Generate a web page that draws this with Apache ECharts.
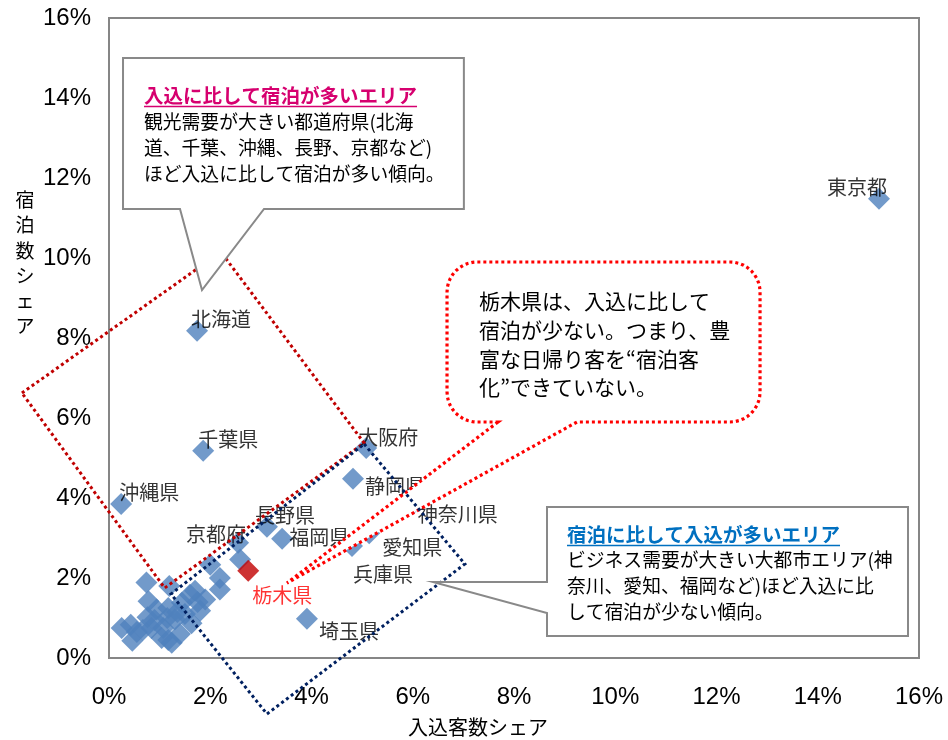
<!DOCTYPE html>
<html>
<head>
<meta charset="utf-8">
<script src="https://cdn.jsdelivr.net/npm/echarts@6/dist/echarts.min.js"></script>
<style>
  html, body { margin: 0; padding: 0; background: #ffffff; }
  #chart { width: 948px; height: 740px; }
</style>
</head>
<body>
<div id="chart"></div>
<script>
// Axis ticks (percent share)
const axisTicks = [0, 2, 4, 6, 8, 10, 12, 14, 16];

// Prefectures that carry a name label: visitor share (x) and overnight-stay share (y), in %
const prefNames    = ['東京都', '北海道', '千葉県', '沖縄県', '大阪府', '静岡県', '長野県', '福岡県', '京都府', '埼玉県', '神奈川県', '愛知県', '兵庫県'];
const visitorShare = [15.21, 1.74, 1.86, 0.24, 5.08, 4.82, 3.12, 3.42, 2.55, 3.91, 6.00, 5.14, 4.80];
const stayShare    = [11.48, 8.18, 5.18, 3.85, 5.25, 4.48, 3.28, 2.98, 2.88, 0.98, 3.85, 3.12, 2.80];

// Highlighted prefecture
const focusName    = '栃木県';
const focusVisitor = 2.75;
const focusStay    = 2.18;

// Remaining prefectures (unlabelled)
const otherVisitor = [0.74, 1.19, 0.78, 0.25, 0.43, 0.46, 0.76, 0.94, 0.84, 1.07, 1.24, 1.04, 1.30, 1.44, 1.60, 1.63, 1.90, 1.80, 2.00, 2.19, 2.19, 2.59, 1.70, 1.17, 0.67, 1.17, 1.50, 0.90, 1.15, 1.35, 0.55, 1.40, 1.75];
const otherStay    = [1.89, 1.80, 1.42, 0.75, 0.83, 0.43, 1.02, 1.21, 0.75, 0.75, 0.38, 0.50, 0.96, 1.38, 1.58, 0.87, 1.46, 1.18, 2.33, 2.00, 1.71, 2.46, 1.68, 1.25, 0.70, 0.45, 1.10, 0.95, 1.00, 1.15, 0.65, 0.60, 1.40];

// Label placement relative to each marker (px)
const labelOffset = {
  '東京都': [-22, -11], '北海道': [24, -11], '千葉県': [25, -11], '沖縄県': [28, -12],
  '大阪府': [22, -11], '静岡県': [42, 8], '長野県': [18, -11], '福岡県': [37, -1],
  '京都府': [-22, -8], '埼玉県': [42, 13], '神奈川県': [45, 10], '愛知県': [43, 14],
  '兵庫県': [31, 28], '栃木県': [34, 25]
};

const CJK = '"Noto Sans CJK JP", "Noto Sans CJK SC", sans-serif';
const LATIN = '"Liberation Sans", Arial, sans-serif';
const MARKER = 22;

const chart = echarts.init(document.getElementById('chart'), null, { renderer: 'canvas' });

const labeledData = prefNames.map((n, i) => ({
  name: n,
  value: [visitorShare[i], stayShare[i]],
  label: { offset: labelOffset[n] }
}));
const otherData = otherVisitor.map((v, i) => [v, otherStay[i]]);

const axisCommon = {
  type: 'value',
  min: axisTicks[0],
  max: axisTicks[axisTicks.length - 1],
  interval: axisTicks[1] - axisTicks[0],
  axisLine: { show: true, lineStyle: { color: '#868686', width: 2 } },
  axisTick: { show: false },
  splitLine: { show: false },
  axisLabel: {
    formatter: v => v + '%',
    fontSize: 24,
    fontFamily: LATIN,
    color: '#000000'
  }
};

chart.setOption({
  animation: false,
  grid: {
    left: 109, right: 29, top: 18, bottom: 82,
    show: true, borderColor: '#868686', borderWidth: 2, backgroundColor: '#ffffff'
  },
  xAxis: Object.assign({}, axisCommon, {
    axisLabel: Object.assign({}, axisCommon.axisLabel, { margin: 27 })
  }),
  yAxis: Object.assign({}, axisCommon, {
    axisLabel: Object.assign({}, axisCommon.axisLabel, { margin: 18 })
  }),
  series: [
    {
      type: 'scatter',
      symbol: 'diamond',
      symbolSize: MARKER,
      itemStyle: { color: '#4F81BD' },
      emphasis: { disabled: true },
      data: otherData
    },
    {
      type: 'scatter',
      symbol: 'diamond',
      symbolSize: MARKER,
      itemStyle: { color: '#4F81BD' },
      emphasis: { disabled: true },
      label: {
        show: true, position: 'inside', formatter: '{b}',
        color: '#000000', fontSize: 20, fontFamily: CJK
      },
      data: labeledData
    },
    {
      type: 'scatter',
      symbol: 'diamond',
      symbolSize: MARKER,
      itemStyle: { color: '#C00000' },
      emphasis: { disabled: true },
      label: {
        show: true, position: 'inside', formatter: '{b}',
        color: '#FF0000', fontSize: 20, fontFamily: CJK,
        offset: labelOffset[focusName]
      },
      data: [{ name: focusName, value: [focusVisitor, focusStay] }]
    }
  ]
});

// ---- annotation overlay (shapes anchored in axis units) ----
const P = p => chart.convertToPixel({ gridIndex: 0 }, p);

const leisureZone  = [[-1.72, 6.625], [2.21, 10.15], [5.04, 5.375], [1.10, 1.75]];
const businessZone = [[5.04, 5.35], [7.03, 2.35], [3.12, -1.40], [1.225, 1.60]];
const leisureNote  = { x0: 0.277, x1: 7.01, y0: 15.0, y1: 11.225, tailL: 1.4025, tailR: 3.062, tip: [1.837, 9.2] };
const businessNote = { x0: 8.652, x1: 15.783, y0: 3.775, y1: 0.55, tailT: 1.9, tailB: 1.125, tip: [6.4, 1.9] };
const focusNote    = { x0: 6.677, x1: 12.86, y0: 9.9, y1: 5.9, tailL: 7.684, tailR: 9.244, tip: [3.516, 1.875] };

function roundedCorner(pts, cx, cy, r, a0, a1) {
  const steps = 10;
  for (let i = 0; i <= steps; i++) {
    const a = a0 + (a1 - a0) * i / steps;
    pts.push([cx + r * Math.cos(a), cy + r * Math.sin(a)]);
  }
}

function measure(text, font) {
  const ctx = document.createElement('canvas').getContext('2d');
  ctx.font = font;
  return ctx.measureText(text).width;
}

const elements = [];
const dotted = (color) => ({ fill: null, stroke: color, lineWidth: 3, lineDash: [3, 3] });

// Focus bubble with its pointer
(function () {
  const [x0, y0] = P([focusNote.x0, focusNote.y0]);
  const [x1, y1] = P([focusNote.x1, focusNote.y1]);
  const tl = P([focusNote.tailL, focusNote.y1])[0];
  const tr = P([focusNote.tailR, focusNote.y1])[0];
  const tip = P(focusNote.tip);
  const r = 30;
  const pts = [[tl, y1], tip, [tr, y1]];
  roundedCorner(pts, x1 - r, y1 - r, r, Math.PI / 2, 0);
  roundedCorner(pts, x1 - r, y0 + r, r, 0, -Math.PI / 2);
  roundedCorner(pts, x0 + r, y0 + r, r, -Math.PI / 2, -Math.PI);
  roundedCorner(pts, x0 + r, y1 - r, r, Math.PI, Math.PI / 2);
  elements.push({
    type: 'polygon', z: 10, silent: true,
    shape: { points: pts },
    style: { fill: '#ffffff', stroke: '#FF0000', lineWidth: 3.2, lineDash: [3, 3] }
  });
  elements.push({
    type: 'text', z: 14, silent: true, x: x0 + 32, y: y0 + 25,
    style: {
      text: '栃木県は、入込に比して\n宿泊が少ない。つまり、豊\n富な日帰り客を“宿泊客\n化”できていない。',
      font: '21px ' + CJK, fill: '#000000', lineHeight: 28.7, verticalAlign: 'top', align: 'left'
    }
  });
})();

// Dotted zones
elements.push({ type: 'polygon', z: 11, silent: true, shape: { points: leisureZone.map(P) }, style: dotted('#C00000') });
elements.push({ type: 'polygon', z: 12, silent: true, shape: { points: businessZone.map(P) }, style: dotted('#002060') });

// Grey callouts
function callout(points, titleText, titleColor, bodyText, left, top, titleDy, bodyDy) {
  elements.push({
    type: 'polygon', z: 13, silent: true,
    shape: { points: points },
    style: { fill: '#ffffff', stroke: '#898989', lineWidth: 2 }
  });
  const titleFont = 'bold 19.5px ' + CJK;
  elements.push({
    type: 'text', z: 14, silent: true, x: left, y: top + titleDy,
    style: { text: titleText, font: titleFont, fill: titleColor, verticalAlign: 'middle', align: 'left' }
  });
  const w = measure(titleText, titleFont);
  elements.push({
    type: 'line', z: 14, silent: true,
    shape: { x1: left, y1: top + titleDy + 10.5, x2: left + w, y2: top + titleDy + 10.5 },
    style: { stroke: titleColor, lineWidth: 1.5 }
  });
  elements.push({
    type: 'text', z: 14, silent: true, x: left, y: top + bodyDy,
    style: { text: bodyText, font: '18.8px ' + CJK, fill: '#000000', lineHeight: 26, verticalAlign: 'top', align: 'left' }
  });
}

(function () {
  const [x0, y0] = P([leisureNote.x0, leisureNote.y0]);
  const [x1, y1] = P([leisureNote.x1, leisureNote.y1]);
  const tl = P([leisureNote.tailL, leisureNote.y1])[0];
  const tr = P([leisureNote.tailR, leisureNote.y1])[0];
  const tip = P(leisureNote.tip);
  callout([[x0, y0], [x1, y0], [x1, y1], [tr, y1], tip, [tl, y1], [x0, y1]],
    '入込に比して宿泊が多いエリア', '#D6006F',
    '観光需要が大きい都道府県(北海\n道、千葉、沖縄、長野、京都など)\nほど入込に比して宿泊が多い傾向。',
    x0 + 21, y0, 38, 51);
})();

(function () {
  const [x0, y0] = P([businessNote.x0, businessNote.y0]);
  const [x1, y1] = P([businessNote.x1, businessNote.y1]);
  const yt = P([businessNote.x0, businessNote.tailT])[1];
  const yb = P([businessNote.x0, businessNote.tailB])[1];
  const tip = P(businessNote.tip);
  callout([[x0, y0], [x1, y0], [x1, y1], [x0, y1], [x0, yb], tip, [x0, yt]],
    '宿泊に比して入込が多いエリア', '#0070C0',
    'ビジネス需要が大きい大都市エリア(神\n奈川、愛知、福岡など)ほど入込に比\nして宿泊が少ない傾向。',
    x0 + 20, y0, 28, 40);
})();

// Axis titles
elements.push({
  type: 'text', z: 14, silent: true, x: 478, y: 727,
  style: { text: '入込客数シェア', font: '20px ' + CJK, fill: '#000000', align: 'center', verticalAlign: 'middle' }
});
elements.push({
  type: 'text', z: 14, silent: true, x: 25, y: 263,
  style: { text: '宿\n泊\n数\nシ\nェ\nア', font: '19px ' + CJK, fill: '#000000', align: 'center', verticalAlign: 'middle', lineHeight: 25.2 }
});

chart.setOption({ graphic: { elements: elements } });
</script>
</body>
</html>
